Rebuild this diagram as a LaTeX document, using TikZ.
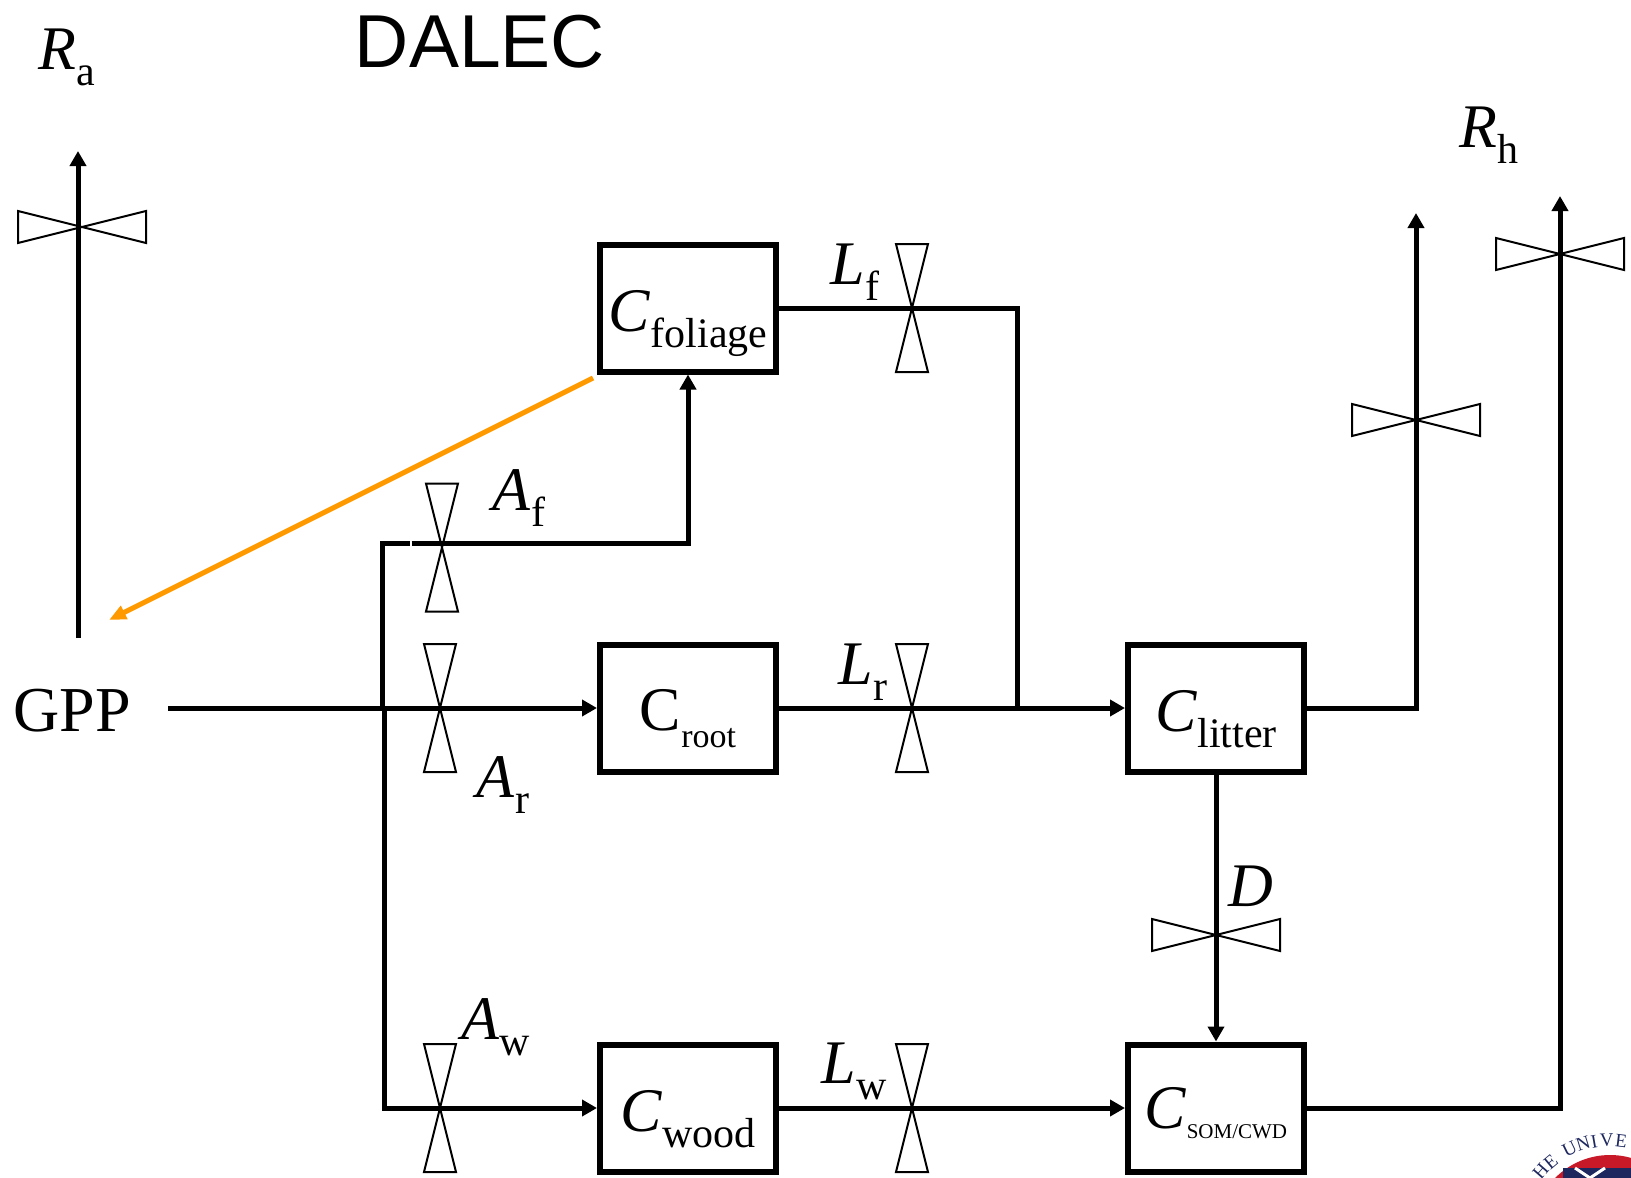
\documentclass[tikz,border=0pt]{standalone}
\usepackage{fontspec}
\setmainfont{Liberation Serif}
\newfontfamily\titlefont{Liberation Sans}
\usetikzlibrary{arrows.meta,positioning,calc}
\definecolor{flowback}{RGB}{255,153,0}
\definecolor{sealred}{RGB}{200,25,40}
\definecolor{sealblue}{RGB}{30,40,95}
\tikzstyle{pool} = [rectangle, draw, line width=6pt, minimum width=176pt, minimum height=127pt, inner sep=0pt, outer sep=3pt, font=\fontsize{62}{62}\selectfont]
\tikzstyle{lab} = [inner sep=0pt, font=\fontsize{62}{62}\selectfont]
\tikzstyle{flow} = [line width=5pt, -{Triangle[length=15pt,width=16pt]}]
\tikzstyle{pipe} = [line width=5pt]
\tikzstyle{valve} = [line width=2pt, miter limit=4]
\newcommand{\sbs}[2]{#1\raisebox{-16pt}{\fontsize{42}{42}\selectfont #2}}
\newcommand{\poolsbs}[2]{\rule{0pt}{48pt}#1\smash{\raisebox{-16pt}{\fontsize{42}{42}\selectfont #2}}}
\newcommand{\vvalve}[1]{\draw[valve] (#1) ++(-16,-64) -- ++(32,0) -- ++(-32,128) -- ++(32,0) -- cycle;}
\newcommand{\hvalve}[1]{\draw[valve] (#1) ++(-64,-16) -- ++(0,32) -- ++(128,-32) -- ++(0,32) -- cycle;}

\begin{document}
\begin{tikzpicture}[x=1pt, y=-1pt, on grid]
\useasboundingbox (0,0) rectangle (1631,1178);
% pools
\node(foliage)[pool] at (688,308) {\poolsbs{\textit{C}}{foliage}};
\node(root)[pool, below=400pt of foliage] {\rule{0pt}{46pt}C\smash{\raisebox{-17pt}{\fontsize{34}{34}\selectfont root}}};
\node(wood)[pool, below=400pt of root] {\poolsbs{\textit{C}}{wood}};
\node(litter)[pool, right=528pt of root] {\poolsbs{\textit{C}}{litter}};
\node(som)[pool, below=400pt of litter] {\textit{C}\smash{\raisebox{-10pt}{\fontsize{21}{21}\selectfont SOM/CWD}}};
% labels
\node(title)[lab, font=\titlefont\fontsize{75}{75}\selectfont] at (480,42) {DALEC};
\node(gpp)[lab, font=\fontsize{64}{64}\selectfont] at (72,711) {GPP};
\node(Ra)[lab] at (67,57) {\sbs{\textit{R}}{a}};
\node(Rh)[lab] at (1489,135) {\sbs{\textit{R}}{h}};
\node(Af)[lab] at (519,498) {\sbs{\textit{A}}{f}};
\node(Ar)[lab] at (503,785) {\sbs{\textit{A}}{r}};
\node(Aw)[lab] at (496,1027) {\sbs{\textit{A}}{w}};
\node(Lf)[lab] at (855,272) {\sbs{\textit{L}}{f}};
\node(Lr)[lab] at (863,672) {\sbs{\textit{L}}{r}};
\node(Lw)[lab] at (854,1071) {\sbs{\textit{L}}{w}};
\node(D)[lab] at (1251,886) {\textit{D}};
% junctions and free ends
\coordinate(gppout) at (168,708);
\coordinate(branch) at (382,708);
\coordinate(branchtop) at (382,543);
\coordinate(branchlow) at (384,1108);
\coordinate(breakl) at (409.5,543);
\coordinate(breakr) at (411.5,543);
\coordinate(turnf) at (688,543);
\coordinate(turnl) at (1017,308);
\coordinate(joinl) at (1017,708);
\coordinate(ragpp) at (78,638);
\coordinate(raend) at (78,151);
\coordinate(rh1turn) at (1416,708);
\coordinate(rh1end) at (1416,213);
\coordinate(rh2turn) at (1560,1108);
\coordinate(rh2end) at (1560,196);
\coordinate(backout) at (593,378);
\coordinate(backin) at (109,620);
% valves
\coordinate(vAf) at (442,547.5);
\coordinate(vAr) at (440,708);
\coordinate(vAw) at (440,1108);
\coordinate(vLf) at (912,308);
\coordinate(vLr) at (912,708);
\coordinate(vLw) at (912,1108);
\coordinate(vRa) at (82,227);
\coordinate(vR1) at (1416,420);
\coordinate(vR2) at (1560,254);
\coordinate(vD) at (1216,935);
\vvalve{vAf} \vvalve{vAr} \vvalve{vAw}
\vvalve{vLf} \vvalve{vLr} \vvalve{vLw}
\hvalve{vRa} \hvalve{vR1} \hvalve{vR2} \hvalve{vD}
% fluxes
\draw[flow](gppout)--(root.west);
\draw[pipe, line cap=butt](branch)--(branchtop)--(breakl);
\draw[flow](breakr)--(turnf)--(foliage.south);
\draw[flow](branch -| branchlow)--(branchlow)--(wood.west);
\draw[flow](ragpp)--(raend);
\draw[pipe](foliage.east)--(turnl)--(joinl);
\draw[flow](root.east)--(litter.west);
\draw[flow](wood.east)--(som.west);
\draw[flow](litter.east)--(rh1turn)--(rh1end);
\draw[flow](som.east)--(rh2turn)--(rh2end);
\draw[flow](litter.south)--(som.north);
\draw[flowback, line width=5pt, -{Triangle[length=17pt,width=14pt]}](backout)--(backin);
% seal in the corner
\begin{scope}
\clip (0,0) rectangle (1631,1178);
\coordinate(seal) at (1610,1232);
\fill[sealred] (seal) circle (77pt);
\fill[sealblue] (1563,1168) rectangle (1640,1178);
\draw[white, line width=3pt] (1575,1168)--(1590,1178) (1605,1168)--(1590,1178);
\foreach \ch/\ang in {H/139,E/130,U/116,N/107,I/100,V/92,E/83}
  \node(letter\ang)[inner sep=0pt, text=sealblue, font=\fontsize{19}{19}\selectfont, rotate=\ang-90] at ($(seal)+(\ang:92pt)$) {\ch};
\end{scope}
\end{tikzpicture}
\end{document}
